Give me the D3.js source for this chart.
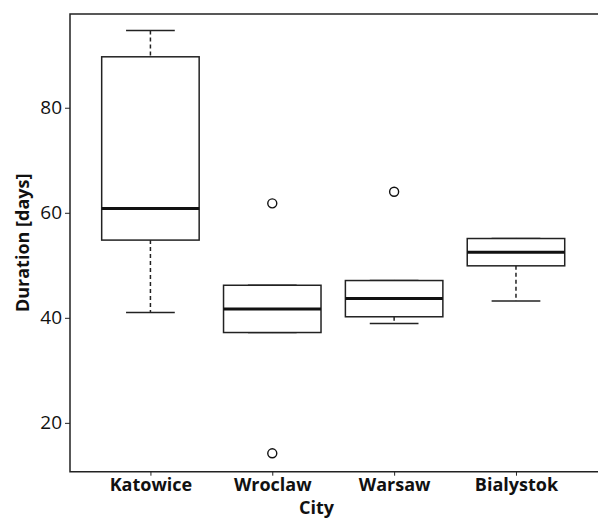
<!DOCTYPE html>
<html>
<head>
<meta charset="utf-8">
<title>Duration by city</title>
<script src="https://d3js.org/d3.v7.min.js"></script>
<style>
  body { margin: 0; background: #fff; }
  svg text { font-family: "Open Sans", sans-serif; fill: #111; }
</style>
</head>
<body>
<svg id="chart" width="598" height="519"></svg>
<script>
// box statistics
var cities   = ["Katowice", "Wroclaw", "Warsaw", "Bialystok"];
var lowWhisk = [41.0, 37.2, 38.9, 43.2];
var q1       = [54.8, 37.2, 40.2, 49.9];
var medians  = [60.8, 41.7, 43.7, 52.5];
var q3       = [89.7, 46.2, 47.1, 55.1];
var upWhisk  = [94.7, 46.2, 47.1, 55.1];
var outliers = [[], [61.8, 14.2], [64.0], []];
var yTicks   = [20, 40, 60, 80];

var svg = d3.select("#chart");
var plotLeft = 70, plotRight = 596.4, plotTop = 14, plotBottom = 471.7;

// base R style: positions 1..n, xlim 0.34..n+0.66
var x = d3.scaleLinear().domain([0.34, cities.length + 0.66]).range([plotLeft, plotRight]);
var y = d3.scaleLinear().domain([10.7, 97.85]).range([plotBottom, plotTop]);

var boxes = cities.map(function (c, i) {
    return {city: c, pos: i + 1, lo: lowWhisk[i], q1: q1[i], med: medians[i],
            q3: q3[i], hi: upWhisk[i], out: outliers[i]};
});

var halfBox = (x(1.4) - x(1)), halfCap = halfBox / 2;

var g = svg.selectAll(".box").data(boxes).enter().append("g").attr("class", "box");

// whiskers
g.append("line")
    .attr("x1", function (d) { return x(d.pos); }).attr("x2", function (d) { return x(d.pos); })
    .attr("y1", function (d) { return y(d.hi); }).attr("y2", function (d) { return y(d.q3); })
    .attr("stroke", "#222").attr("stroke-width", 1.5).attr("stroke-dasharray", "4,3");
g.append("line")
    .attr("x1", function (d) { return x(d.pos); }).attr("x2", function (d) { return x(d.pos); })
    .attr("y1", function (d) { return y(d.q1); }).attr("y2", function (d) { return y(d.lo); })
    .attr("stroke", "#222").attr("stroke-width", 1.5).attr("stroke-dasharray", "4,3");
g.append("line")
    .attr("x1", function (d) { return x(d.pos) - halfCap; }).attr("x2", function (d) { return x(d.pos) + halfCap; })
    .attr("y1", function (d) { return y(d.hi); }).attr("y2", function (d) { return y(d.hi); })
    .attr("stroke", "#222").attr("stroke-width", 1.5);
g.append("line")
    .attr("x1", function (d) { return x(d.pos) - halfCap; }).attr("x2", function (d) { return x(d.pos) + halfCap; })
    .attr("y1", function (d) { return y(d.lo); }).attr("y2", function (d) { return y(d.lo); })
    .attr("stroke", "#222").attr("stroke-width", 1.5);

// box
g.append("rect")
    .attr("x", function (d) { return x(d.pos) - halfBox; })
    .attr("width", halfBox * 2)
    .attr("y", function (d) { return y(d.q3); })
    .attr("height", function (d) { return y(d.q1) - y(d.q3); })
    .attr("fill", "white").attr("stroke", "#222").attr("stroke-width", 1.5);

// median
g.append("line")
    .attr("x1", function (d) { return x(d.pos) - halfBox; }).attr("x2", function (d) { return x(d.pos) + halfBox; })
    .attr("y1", function (d) { return y(d.med); }).attr("y2", function (d) { return y(d.med); })
    .attr("stroke", "#111").attr("stroke-width", 3);

// outliers
g.selectAll(".outlier")
    .data(function (d) { return d.out.map(function (v) { return {pos: d.pos, v: v}; }); })
    .enter().append("circle")
    .attr("class", "outlier")
    .attr("cx", function (d) { return x(d.pos); })
    .attr("cy", function (d) { return y(d.v); })
    .attr("r", 4.5)
    .attr("fill", "white").attr("stroke", "#111").attr("stroke-width", 1.4);

// frame: top, left, bottom
svg.append("path")
    .attr("d", "M598," + plotTop + "H" + plotLeft + "V" + plotBottom + "H598")
    .attr("fill", "none").attr("stroke", "#222").attr("stroke-width", 1.5);

// y axis
var yAxis = svg.append("g").attr("transform", "translate(" + plotLeft + ",0)")
    .call(d3.axisLeft(y).tickValues(yTicks).tickSize(5).tickPadding(3));
yAxis.select(".domain").remove();
yAxis.selectAll("line").attr("stroke", "#222").attr("stroke-width", 1);
yAxis.selectAll("text").attr("font-size", 19).attr("font-family", "Open Sans, sans-serif")
    .attr("fill", "#222");

// x axis
var xAxis = svg.append("g").attr("transform", "translate(0," + plotBottom + ")")
    .call(d3.axisBottom(x).tickValues(boxes.map(function (d) { return d.pos; }))
        .tickFormat(function (p) { return cities[p - 1]; }).tickSize(4).tickPadding(3));
xAxis.select(".domain").remove();
xAxis.selectAll("line").attr("stroke", "#222").attr("stroke-width", 1);
xAxis.selectAll("text").attr("font-size", 18).attr("font-weight", "bold")
    .attr("font-family", "Open Sans, sans-serif").attr("fill", "#111");

// axis titles
svg.append("text")
    .attr("x", 316.5).attr("y", 514)
    .attr("text-anchor", "middle").attr("font-size", 18).attr("font-weight", "bold")
    .text("City");
svg.append("text")
    .attr("transform", "translate(29," + ((plotTop + plotBottom) / 2) + ") rotate(-90)")
    .attr("text-anchor", "middle").attr("font-size", 18).attr("font-weight", "bold")
    .text("Duration [days]");
</script>
</body>
</html>
